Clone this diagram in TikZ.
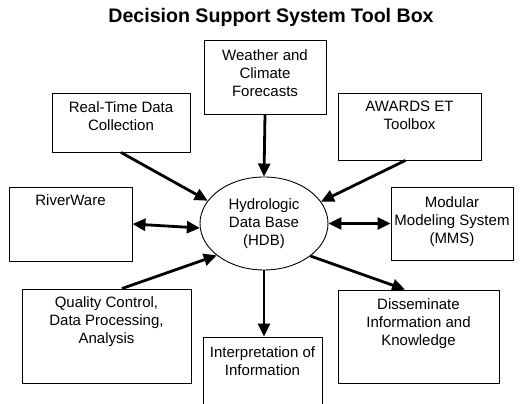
\documentclass[tikz,border=0pt]{standalone}
\usepackage{fontspec}
\setmainfont{Liberation Sans}
\usetikzlibrary{arrows.meta,shapes.geometric}
\begin{document}
\begin{tikzpicture}[x=1pt,y=1pt,
  box/.style={draw, line width=0.9pt, inner sep=0pt},
  txt/.style={align=center, font=\fontsize{15}{18}\selectfont, inner sep=0pt, anchor=north},
  link/.style={line width=2.8pt, -{Triangle[length=13pt,width=12pt]}},
  both/.style={line width=2.8pt, {Triangle[length=13pt,width=12pt]}-{Triangle[length=13pt,width=12pt]}}]
\clip (0,0) rectangle (523,404);
\fill[white] (0,0) rectangle (523,404);

% title
\node[font=\bfseries\fontsize{19.6}{22}\selectfont] (title) at (271,387) {Decision Support System Tool Box};

% central data base
\node[draw, line width=0.9pt, ellipse, minimum width=128pt, minimum height=93pt, inner sep=0pt,
      align=center, font=\fontsize{15}{18}\selectfont] (hdb) at (264,180.5)
      {Hydrologic\\Data Base\\(HDB)};

% tool boxes
\node[box, minimum width=122pt, minimum height=74pt,
      label={[txt, yshift=-10pt]north:Weather and\\Climate\\Forecasts}] (wcf) at (265,327) {};
\node[box, minimum width=138pt, minimum height=59pt,
      label={[txt, yshift=-9pt]north:Real-Time Data\\Collection}] (rtd) at (121,281.5) {};
\node[box, minimum width=143pt, minimum height=67pt,
      label={[txt, yshift=-8pt]north:AWARDS ET\\Toolbox}] (awd) at (409.5,277.5) {};
\node[box, minimum width=123pt, minimum height=74pt,
      label={[txt, yshift=-8pt]north:RiverWare}] (rvw) at (70.5,180) {};
\node[box, minimum width=122pt, minimum height=73pt,
      label={[txt, yshift=-10pt]north:Modular\\Modeling System\\(MMS)}] (mms) at (452,180.5) {};
\node[box, minimum width=169pt, minimum height=94pt,
      label={[txt, yshift=-8pt]north:Quality Control,\\Data Processing,\\Analysis}] (qcd) at (106.5,68) {};
\node[box, minimum width=119pt, minimum height=87pt,
      label={[txt, yshift=-10pt]north:Interpretation of\\Information}] (int) at (262.5,23.5) {};
\node[box, minimum width=161pt, minimum height=93pt,
      label={[txt, yshift=-9pt]north:Disseminate\\Information and\\Knowledge}] (dis) at (418.5,67.5) {};

% connectors
\draw[link] (wcf.south) -- (hdb.north);
\draw[link] (rtd.south) -- (hdb.158);
\draw[link] (awd.263) -- (hdb.21);
\draw[both] (rvw.east) -- (hdb.184);
\draw[both] (hdb.east) -- (mms.west);
\draw[link] (qcd.72) -- (hdb.214);
\draw[link] (hdb.south) -- (hdb.south |- int.north);
\draw[link] (hdb.-35) -- (dis.106);
\end{tikzpicture}
\end{document}
